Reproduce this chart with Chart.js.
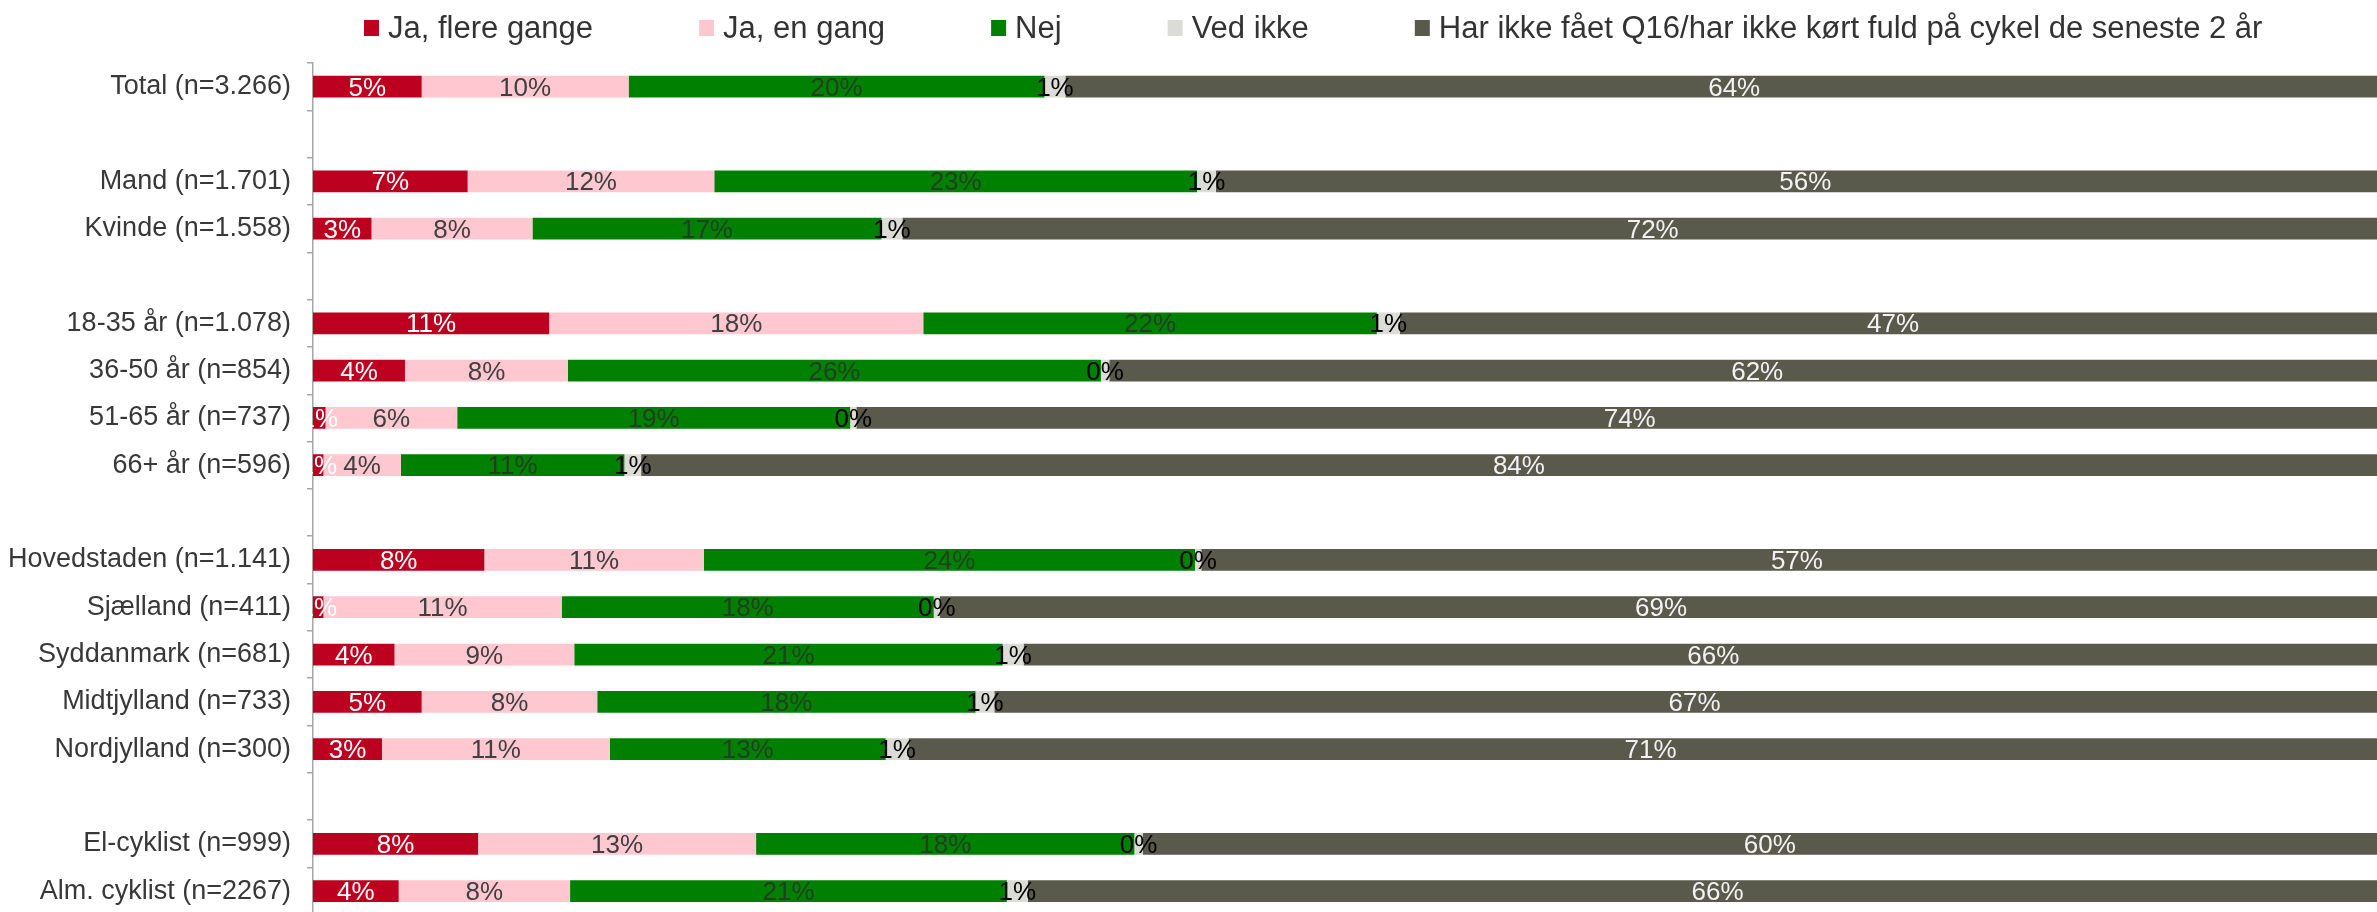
<!DOCTYPE html>
<html>
<head>
<meta charset="utf-8">
<script src="https://cdn.jsdelivr.net/npm/chart.js@4.4.1/dist/chart.umd.min.js"></script>
<style>
  html, body { margin: 0; padding: 0; background: #fff; overflow: hidden; }
  #wrap { width: 2410px; height: 947px; position: relative; }
</style>
</head>
<body>
<div id="wrap"><canvas id="bar-canvas"></canvas></div>
<script>
const categories = [
    'Total (n=3.266)', '',
    'Mand (n=1.701)', 'Kvinde (n=1.558)', '',
    '18-35 år (n=1.078)', '36-50 år (n=854)', '51-65 år (n=737)', '66+ år (n=596)', '',
    'Hovedstaden (n=1.141)', 'Sjælland (n=411)', 'Syddanmark (n=681)', 'Midtjylland (n=733)', 'Nordjylland (n=300)', '',
    'El-cyklist (n=999)', 'Alm. cyklist (n=2267)'
]
const seriesNames = ['Ja, flere gange', 'Ja, en gang', 'Nej', 'Ved ikke', 'Har ikke fået Q16/har ikke kørt fuld på cykel de seneste 2 år']

const jaFlere  = [5.2, null, 7.4, 2.8, null, 11.3, 4.4, 0.6, 0.5, null, 8.2, 0.5, 3.9, 5.2, 3.3, null, 7.9, 4.1]
const jaEnGang = [9.9, null, 11.8, 7.7, null, 17.9, 7.8, 6.3, 3.7, null, 10.5, 11.4, 8.6, 8.4, 10.9, null, 13.3, 8.2]
const nej      = [19.9, null, 23.1, 16.7, null, 21.7, 25.5, 18.8, 10.7, null, 23.5, 17.8, 20.5, 18.1, 13.2, null, 18.1, 20.9]
const vedIkke  = [1.0, null, 0.9, 1.0, null, 1.1, 0.4, 0.3, 0.8, null, 0.3, 0.3, 1.0, 0.9, 1.1, null, 0.4, 1.0]
const harIkke  = [64.0, null, 56.4, 71.8, null, 47.2, 62, 74, 84, null, 57, 69, 66, 67, 71, null, 60, 66]

const fillColors  = ['#bd0020', '#ffc8d0', '#008000', '#dcdcd6', '#5a5a4c']
const labelColors = ['#ffffff', '#404040', '#233f23', '#000000', '#f2f2f2']
const fontFamily = "'Liberation Sans', Arial, sans-serif"

// percentage labels centred in each segment
const segmentLabels = {
    id: 'segmentLabels',
    afterDatasetsDraw(chart) {
        const ctx = chart.ctx
        ctx.save()
        ctx.font = '26px ' + fontFamily
        ctx.textAlign = 'center'
        ctx.textBaseline = 'middle'
        chart.data.datasets.forEach((ds, i) => {
            const meta = chart.getDatasetMeta(i)
            meta.data.forEach((bar, j) => {
                const v = ds.data[j]
                if (v === null) return
                ctx.fillStyle = labelColors[i]
                ctx.fillText(Math.round(v) + '%', (bar.x + bar.base) / 2, bar.y + 2)
            })
        })
        ctx.restore()
    }
}

// legend row across the top
const topLegend = {
    id: 'topLegend',
    afterDraw(chart) {
        const ctx = chart.ctx
        ctx.save()
        ctx.font = '31px ' + fontFamily
        ctx.textBaseline = 'middle'
        let x = 364
        const y = 28
        chart.data.datasets.forEach((ds, i) => {
            ctx.fillStyle = fillColors[i]
            ctx.fillRect(x, y - 8, 15, 16)
            ctx.fillStyle = '#333333'
            ctx.fillText(ds.label, x + 24, y + 1)
            x += 24 + ctx.measureText(ds.label).width + 106
        })
        ctx.restore()
    }
}

const series = [jaFlere, jaEnGang, nej, vedIkke, harIkke]

const barChart = new Chart(document.getElementById('bar-canvas'), {
    type: 'bar',
    data: {
        labels: categories,
        datasets: series.map((values, i) => ({
            label: seriesNames[i],
            data: values,
            backgroundColor: fillColors[i],
            borderWidth: 0,
            barPercentage: 0.46,
            categoryPercentage: 1
        }))
    },
    options: {
        indexAxis: 'y',
        responsive: true,
        maintainAspectRatio: false,
        devicePixelRatio: 1,
        animation: false,
        layout: { padding: { top: 63, right: 7, left: 0, bottom: 0 } },
        plugins: {
            legend: { display: false },
            tooltip: { enabled: false }
        },
        scales: {
            x: { stacked: true, min: 0, max: 100, display: false },
            y: {
                stacked: true,
                afterFit: (scale) => { scale.width = 313 },
                grid: { drawOnChartArea: false, drawTicks: true, tickLength: 6, color: '#a6a6a6', lineWidth: 1.5 },
                border: { display: true, color: '#a6a6a6', width: 1.5 },
                ticks: {
                    padding: 16,
                    color: '#383838',
                    font: { family: fontFamily, size: 27 }
                }
            }
        }
    },
    plugins: [segmentLabels, topLegend]
})
</script>
</body>
</html>
